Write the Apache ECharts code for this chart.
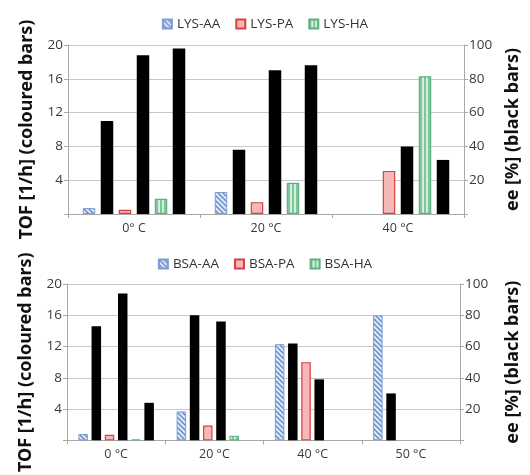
<!DOCTYPE html>
<html>
<head>
<meta charset="utf-8">
<script src="https://cdn.jsdelivr.net/npm/echarts@6/dist/echarts.min.js"></script>
<style>
html,body{margin:0;padding:0;background:#fff;}
#main{width:530px;height:475px;}
</style>
</head>
<body>
<div id="main"></div>
<script>
// ---- data ----
var categoriesTop = ['0° C', '20 °C', '40 °C'];
var lysAA   = [0.7, 2.6, null];
var lysAAee = [55, 38, null];
var lysPA   = [0.5, 1.4, 5.1];
var lysPAee = [94, 85, 40];
var lysHA   = [1.8, 3.7, 16.3];
var lysHAee = [98, 88, 32];

var categoriesBottom = ['0 °C', '20 °C', '40 °C', '50 °C'];
var bsaAA   = [0.8, 3.7, 12.3, 16.0];
var bsaAAee = [73, 80, 62, 30];
var bsaPA   = [0.7, 1.9, 10.0, null];
var bsaPAee = [94, 76, 39, null];
var bsaHA   = [0.1, 0.6, null, null];
var bsaHAee = [24, null, null, null];

// ---- patterns ----
function patAA() {
  var c = document.createElement('canvas'); c.width = 5; c.height = 5;
  var g = c.getContext('2d');
  g.fillStyle = '#dfe8f6'; g.fillRect(0, 0, 5, 5);
  g.strokeStyle = '#5f86c6'; g.lineWidth = 1.3;
  g.beginPath();
  g.moveTo(-1, -1); g.lineTo(6, 6);
  g.moveTo(-1, 4); g.lineTo(1, 6);
  g.moveTo(4, -1); g.lineTo(6, 1);
  g.stroke();
  return {image: c, repeat: 'repeat'};
}
function patHA() {
  var c = document.createElement('canvas'); c.width = 4; c.height = 2;
  var g = c.getContext('2d');
  g.fillStyle = '#d6eedf'; g.fillRect(0, 0, 4, 2);
  g.fillStyle = '#80c69c'; g.fillRect(0, 0, 2, 2);
  return {image: c, repeat: 'repeat'};
}
var styleAA = {color: patAA(), borderColor: '#7b9dd6', borderWidth: 1};
var stylePA = {color: '#f5b8b7', borderColor: '#d83f3d', borderWidth: 1.2};
var styleHA = {color: patHA(), borderColor: '#5cb27f', borderWidth: 1.2};
var styleBlack = {color: '#000'};

var axisColor = '#a8a8a8';
var labelColor = '#3a3a3a';
var labelFont = 'Open Sans';

function yAx(grid, pos, max, interval, name, gap) {
  return {
    type: 'value', gridIndex: grid, position: pos, min: 0, max: max, interval: interval,
    name: name, nameLocation: 'middle', nameRotate: 90, nameGap: gap,
    nameTextStyle: {fontFamily: 'Noto Sans', fontWeight: 'bold', fontSize: 18, color: '#111'},
    axisLine: {show: true, lineStyle: {color: axisColor}},
    axisTick: {show: true, length: 4, lineStyle: {color: axisColor}},
    axisLabel: {color: labelColor, fontFamily: labelFont, fontSize: 13.5, margin: 5,
      formatter: function (v) { return v === 0 ? '' : String(v); }},
    splitLine: {show: pos === 'left', lineStyle: {color: '#cdc6c6'}}
  };
}
function xAx(grid, cats) {
  return {
    type: 'category', gridIndex: grid, data: cats,
    axisLine: {show: true, lineStyle: {color: axisColor}},
    axisTick: {show: true, length: 4, interval: 0, lineStyle: {color: axisColor}},
    axisLabel: {color: labelColor, fontFamily: labelFont, fontSize: 12.5, margin: 8}
  };
}
function bar(name, data, x, y, style, w, gap) {
  return {type: 'bar', name: name, data: data, xAxisIndex: x, yAxisIndex: y,
    itemStyle: style, barWidth: w, barGap: gap, silent: true};
}

var chart = echarts.init(document.getElementById('main'));
chart.setOption({
  animation: false,
  backgroundColor: '#fff',
  legend: [
    {top: 12, left: 'center', data: ['LYS-AA', 'LYS-PA', 'LYS-HA'], icon: 'rect', itemWidth: 9, itemHeight: 9, itemGap: 15,
      textStyle: {fontFamily: labelFont, fontSize: 13.5, color: '#333'}},
    {top: 252, left: 'center', data: ['BSA-AA', 'BSA-PA', 'BSA-HA'], icon: 'rect', itemWidth: 9, itemHeight: 9, itemGap: 15,
      textStyle: {fontFamily: labelFont, fontSize: 13.5, color: '#333'}}
  ],
  grid: [
    {left: 68, top: 45, width: 404, height: 169},
    {left: 67, top: 284, width: 400, height: 168.5}
  ],
  xAxis: [xAx(0, categoriesTop), xAx(1, categoriesBottom)],
  yAxis: [
    yAx(0, 'left', 20, 4, 'TOF [1/h] (coloured bars)', 32),
    yAx(0, 'right', 100, 20, 'ee [%] (black bars)', 40),
    yAx(1, 'left', 20, 4, 'TOF [1/h] (coloured bars)', 32),
    yAx(1, 'right', 100, 20, 'ee [%] (black bars)', 44)
  ],
  series: [
    bar('LYS-AA', lysAA, 0, 0, styleAA, 12.5, '44%'),
    bar('LYS-AA ee', lysAAee, 0, 1, styleBlack, 12.5, '44%'),
    bar('LYS-PA', lysPA, 0, 0, stylePA, 12.5, '44%'),
    bar('LYS-PA ee', lysPAee, 0, 1, styleBlack, 12.5, '44%'),
    bar('LYS-HA', lysHA, 0, 0, styleHA, 12.5, '44%'),
    bar('LYS-HA ee', lysHAee, 0, 1, styleBlack, 12.5, '44%'),
    bar('BSA-AA', bsaAA, 1, 2, styleAA, 9.5, '39%'),
    bar('BSA-AA ee', bsaAAee, 1, 3, styleBlack, 9.5, '39%'),
    bar('BSA-PA', bsaPA, 1, 2, stylePA, 9.5, '39%'),
    bar('BSA-PA ee', bsaPAee, 1, 3, styleBlack, 9.5, '39%'),
    bar('BSA-HA', bsaHA, 1, 2, styleHA, 9.5, '39%'),
    bar('BSA-HA ee', bsaHAee, 1, 3, styleBlack, 9.5, '39%')
  ]
});
</script>
</body>
</html>
